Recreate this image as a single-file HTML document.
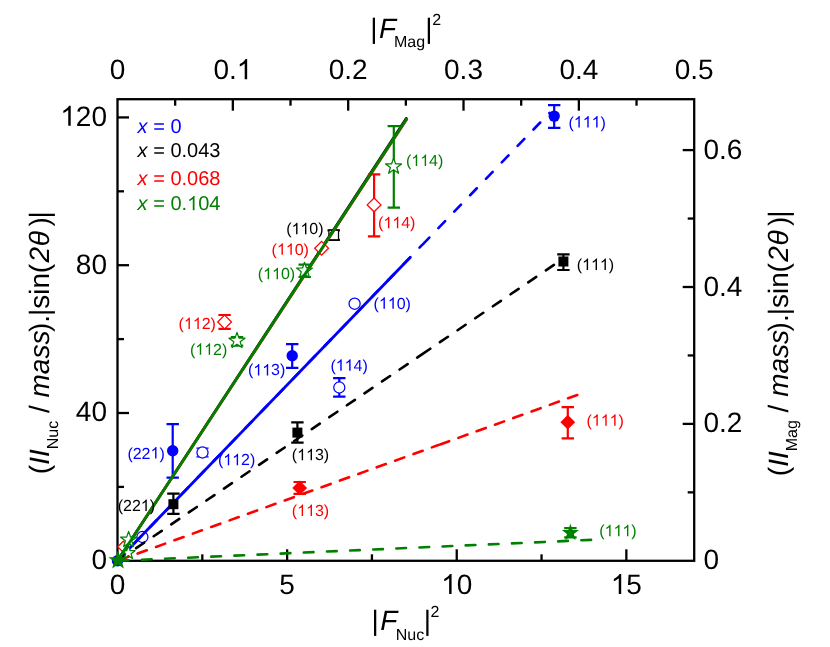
<!DOCTYPE html>
<html><head><meta charset="utf-8"><title>chart</title>
<style>
html,body{margin:0;padding:0;background:#fff;}
svg{display:block;font-family:"Liberation Sans",sans-serif;text-rendering:geometricPrecision;will-change:transform;font-kerning:none;}
</style></head>
<body>
<svg width="830" height="647" viewBox="0 0 830 647">
<rect x="0" y="0" width="830" height="647" fill="#fff"/>
<rect x="117.5" y="99.2" width="576.70" height="461.60" fill="none" stroke="#000" stroke-width="2.3"/>
<line x1="202.31" y1="560.80" x2="202.31" y2="554.30" stroke="#000" stroke-width="2.3" />
<line x1="287.12" y1="560.80" x2="287.12" y2="549.30" stroke="#000" stroke-width="2.3" />
<line x1="371.93" y1="560.80" x2="371.93" y2="554.30" stroke="#000" stroke-width="2.3" />
<line x1="456.74" y1="560.80" x2="456.74" y2="549.30" stroke="#000" stroke-width="2.3" />
<line x1="541.54" y1="560.80" x2="541.54" y2="554.30" stroke="#000" stroke-width="2.3" />
<line x1="626.35" y1="560.80" x2="626.35" y2="549.30" stroke="#000" stroke-width="2.3" />
<line x1="175.17" y1="99.20" x2="175.17" y2="105.70" stroke="#000" stroke-width="2.3" />
<line x1="232.84" y1="99.20" x2="232.84" y2="110.70" stroke="#000" stroke-width="2.3" />
<line x1="290.51" y1="99.20" x2="290.51" y2="105.70" stroke="#000" stroke-width="2.3" />
<line x1="348.18" y1="99.20" x2="348.18" y2="110.70" stroke="#000" stroke-width="2.3" />
<line x1="405.85" y1="99.20" x2="405.85" y2="105.70" stroke="#000" stroke-width="2.3" />
<line x1="463.52" y1="99.20" x2="463.52" y2="110.70" stroke="#000" stroke-width="2.3" />
<line x1="521.19" y1="99.20" x2="521.19" y2="105.70" stroke="#000" stroke-width="2.3" />
<line x1="578.86" y1="99.20" x2="578.86" y2="110.70" stroke="#000" stroke-width="2.3" />
<line x1="636.53" y1="99.20" x2="636.53" y2="105.70" stroke="#000" stroke-width="2.3" />
<line x1="117.50" y1="486.90" x2="124.00" y2="486.90" stroke="#000" stroke-width="2.3" />
<line x1="117.50" y1="413.01" x2="129.00" y2="413.01" stroke="#000" stroke-width="2.3" />
<line x1="117.50" y1="339.11" x2="124.00" y2="339.11" stroke="#000" stroke-width="2.3" />
<line x1="117.50" y1="265.21" x2="129.00" y2="265.21" stroke="#000" stroke-width="2.3" />
<line x1="117.50" y1="191.31" x2="124.00" y2="191.31" stroke="#000" stroke-width="2.3" />
<line x1="117.50" y1="117.42" x2="129.00" y2="117.42" stroke="#000" stroke-width="2.3" />
<line x1="694.20" y1="492.35" x2="687.70" y2="492.35" stroke="#000" stroke-width="2.3" />
<line x1="694.20" y1="423.90" x2="682.70" y2="423.90" stroke="#000" stroke-width="2.3" />
<line x1="694.20" y1="355.45" x2="687.70" y2="355.45" stroke="#000" stroke-width="2.3" />
<line x1="694.20" y1="287.00" x2="682.70" y2="287.00" stroke="#000" stroke-width="2.3" />
<line x1="694.20" y1="218.55" x2="687.70" y2="218.55" stroke="#000" stroke-width="2.3" />
<line x1="694.20" y1="150.10" x2="682.70" y2="150.10" stroke="#000" stroke-width="2.3" />
<circle cx="117.50" cy="560.80" r="5.7" fill="#0000ff"/>
<circle cx="142.40" cy="537.00" r="5.55" fill="#fff" stroke="#0000ff" stroke-width="1.25"/>
<path d="M196.4 448.2H208.6M196.4 456.8H208.6" stroke="#0000ff" stroke-width="1.3" fill="none"/>
<circle cx="202.50" cy="452.50" r="5.55" fill="#fff" stroke="#0000ff" stroke-width="1.25"/>
<circle cx="354.60" cy="303.70" r="5.55" fill="#fff" stroke="#0000ff" stroke-width="1.25"/>
<path d="M339.30 378.10V396.70M333.10 378.10H345.50M333.10 396.70H345.50" stroke="#0000ff" stroke-width="2.2" fill="none"/>
<circle cx="339.30" cy="387.50" r="5.55" fill="#fff" stroke="#0000ff" stroke-width="1.25"/>
<line x1="117.50" y1="560.80" x2="421.64" y2="245.47" stroke="#0000ff" stroke-width="2.6" stroke-linecap="round" stroke-dasharray="9.7 13.13" stroke-dashoffset="-1.30"/>
<line x1="421.64" y1="245.47" x2="549.50" y2="112.90" stroke="#0000ff" stroke-width="2.6" stroke-linecap="round" stroke-dasharray="9.7 13.13" stroke-dashoffset="-1.30"/>
<line x1="117.50" y1="560.80" x2="410.60" y2="256.90" stroke="#0000ff" stroke-width="2.85" />
<path d="M172.70 424.10V477.70M166.50 424.10H178.90M166.50 477.70H178.90" stroke="#0000ff" stroke-width="2.2" fill="none"/>
<circle cx="172.70" cy="450.70" r="5.7" fill="#0000ff"/>
<path d="M292.20 344.20V367.80M286.00 344.20H298.40M286.00 367.80H298.40" stroke="#0000ff" stroke-width="2.2" fill="none"/>
<circle cx="292.20" cy="355.80" r="5.7" fill="#0000ff"/>
<path d="M554.20 105.20V127.90M548.00 105.20H560.40M548.00 127.90H560.40" stroke="#0000ff" stroke-width="2.2" fill="none"/>
<circle cx="554.20" cy="116.10" r="5.7" fill="#0000ff"/>
<path d="M333.70 230.30V239.90M327.50 230.30H339.90M327.50 239.90H339.90" stroke="#000000" stroke-width="2.2" fill="none"/>
<rect x="328.90" y="230.20" width="9.6" height="9.6" fill="#fff" stroke="#000000" stroke-width="1.25"/>
<line x1="117.50" y1="560.80" x2="421.18" y2="354.90" stroke="#000000" stroke-width="2.6" stroke-linecap="round" stroke-dasharray="9.7 11.52" stroke-dashoffset="-1.30"/>
<line x1="421.18" y1="354.90" x2="554.20" y2="264.70" stroke="#000000" stroke-width="2.6" stroke-linecap="round" stroke-dasharray="9.7 11.64" stroke-dashoffset="-1.30"/>
<line x1="117.50" y1="560.80" x2="406.33" y2="118.27" stroke="#000000" stroke-width="2.6" stroke-linecap="round"/>
<path d="M173.40 493.60V513.90M167.20 493.60H179.60M167.20 513.90H179.60" stroke="#000000" stroke-width="2.2" fill="none"/>
<rect x="168.40" y="499.20" width="10.0" height="10.0" fill="#000000"/>
<path d="M297.40 422.30V442.60M291.20 422.30H303.60M291.20 442.60H303.60" stroke="#000000" stroke-width="2.2" fill="none"/>
<rect x="292.40" y="427.60" width="10.0" height="10.0" fill="#000000"/>
<path d="M563.40 254.30V270.00M557.20 254.30H569.60M557.20 270.00H569.60" stroke="#000000" stroke-width="2.2" fill="none"/>
<rect x="558.40" y="256.50" width="10.0" height="10.0" fill="#000000"/>
<path d="M123.30 541.20L128.90 546.80L123.30 552.40L117.70 546.80Z" fill="#fff" stroke="#ff0000" stroke-width="1.25"/>
<path d="M224.60 315.00V328.90M218.40 315.00H230.80M218.40 328.90H230.80" stroke="#ff0000" stroke-width="2.2" fill="none"/>
<path d="M224.60 315.10L231.50 322.00L224.60 328.90L217.70 322.00Z" fill="#fff" stroke="#ff0000" stroke-width="1.25"/>
<path d="M321.60 241.40L328.50 248.30L321.60 255.20L314.70 248.30Z" fill="#fff" stroke="#ff0000" stroke-width="1.25"/>
<path d="M374.10 174.30V236.30M367.90 174.30H380.30M367.90 236.30H380.30" stroke="#ff0000" stroke-width="2.2" fill="none"/>
<path d="M374.10 198.00L381.00 204.90L374.10 211.80L367.20 204.90Z" fill="#fff" stroke="#ff0000" stroke-width="1.25"/>
<line x1="117.50" y1="560.80" x2="438.36" y2="445.06" stroke="#ff0000" stroke-width="2.6" stroke-linecap="round" stroke-dasharray="9.7 9.85" stroke-dashoffset="-1.85"/>
<line x1="438.36" y1="445.06" x2="579.10" y2="394.30" stroke="#ff0000" stroke-width="2.6" stroke-linecap="round" stroke-dasharray="9.7 9.75" stroke-dashoffset="-1.80"/>
<line x1="117.50" y1="560.80" x2="407.28" y2="118.65" stroke="#ff0000" stroke-width="2.6" />
<path d="M299.70 482.00V493.90M293.50 482.00H305.90M293.50 493.90H305.90" stroke="#ff0000" stroke-width="2.2" fill="none"/>
<path d="M299.70 480.50L307.10 487.90L299.70 495.30L292.30 487.90Z" fill="#ff0000"/>
<path d="M567.80 407.20V438.40M561.60 407.20H574.00M561.60 438.40H574.00" stroke="#ff0000" stroke-width="2.2" fill="none"/>
<path d="M567.80 414.80L575.20 422.20L567.80 429.60L560.40 422.20Z" fill="#ff0000"/>
<polygon points="128.60,531.40 130.57,537.08 136.59,537.20 131.80,540.84 133.54,546.60 128.60,543.16 123.66,546.60 125.40,540.84 120.61,537.20 126.63,537.08" fill="#fff" stroke="#008000" stroke-width="1.25" stroke-linejoin="round"/>
<polygon points="128.40,545.80 130.05,550.53 135.06,550.64 131.06,553.67 132.51,558.46 128.40,555.60 124.29,558.46 125.74,553.67 121.74,550.64 126.75,550.53" fill="#fff" stroke="#008000" stroke-width="1.25" stroke-linejoin="round"/>
<path d="M237.00 337.10V345.60M230.80 337.10H243.20M230.80 345.60H243.20" stroke="#008000" stroke-width="2.2" fill="none"/>
<polygon points="237.00,332.40 238.97,338.08 244.99,338.20 240.20,341.84 241.94,347.60 237.00,344.16 232.06,347.60 233.80,341.84 229.01,338.20 235.03,338.08" fill="#fff" stroke="#008000" stroke-width="1.25" stroke-linejoin="round"/>
<path d="M304.70 264.70V277.00M298.50 264.70H310.90M298.50 277.00H310.90" stroke="#008000" stroke-width="2.2" fill="none"/>
<polygon points="304.50,262.30 306.47,267.98 312.49,268.10 307.70,271.74 309.44,277.50 304.50,274.06 299.56,277.50 301.30,271.74 296.51,268.10 302.53,267.98" fill="#fff" stroke="#008000" stroke-width="1.25" stroke-linejoin="round"/>
<path d="M393.80 126.10V207.60M387.60 126.10H400.00M387.60 207.60H400.00" stroke="#008000" stroke-width="2.2" fill="none"/>
<polygon points="393.60,158.10 395.57,163.78 401.59,163.90 396.80,167.54 398.54,173.30 393.60,169.86 388.66,173.30 390.40,167.54 385.61,163.90 391.63,163.78" fill="#fff" stroke="#008000" stroke-width="1.25" stroke-linejoin="round"/>
<line x1="117.50" y1="560.80" x2="592.90" y2="539.80" stroke="#008000" stroke-width="2.6" stroke-linecap="round" stroke-dasharray="9.7 13.45" stroke-dashoffset="-1.30"/>
<line x1="117.50" y1="560.80" x2="406.90" y2="118.40" stroke="#008000" stroke-width="2.8" />
<path d="M570.40 528.10V537.40M564.20 528.10H576.60M564.20 537.40H576.60" stroke="#008000" stroke-width="2.2" fill="none"/>
<polygon points="570.40,523.80 572.52,529.89 578.96,530.02 573.82,533.91 575.69,540.08 570.40,536.40 565.11,540.08 566.98,533.91 561.84,530.02 568.28,529.89" fill="#008000"/>
<polygon points="118.00,550.40 120.35,557.16 127.51,557.31 121.80,561.64 123.88,568.49 118.00,564.40 112.12,568.49 114.20,561.64 108.49,557.31 115.65,557.16" fill="#008000"/>
<text x="109.71" y="594.00" font-size="28" fill="#000">0</text>
<text x="279.33" y="594.00" font-size="28" fill="#000">5</text>
<path transform="translate(441.16 594.00) scale(0.01367 -0.01367)" d="M763 0H583V1147Q518 1085 412.5 1023T223 930V1104Q373 1174.5 485.5 1275T644 1470H763Z" fill="#000"/>
<text x="456.74" y="594.00" font-size="28" fill="#000">0</text>
<path transform="translate(610.78 594.00) scale(0.01367 -0.01367)" d="M763 0H583V1147Q518 1085 412.5 1023T223 930V1104Q373 1174.5 485.5 1275T644 1470H763Z" fill="#000"/>
<text x="626.35" y="594.00" font-size="28" fill="#000">5</text>
<text x="109.71" y="79.20" font-size="28" fill="#000">0</text>
<text x="213.38" y="79.20" font-size="28" fill="#000">0.</text>
<path transform="translate(236.73 79.20) scale(0.01367 -0.01367)" d="M763 0H583V1147Q518 1085 412.5 1023T223 930V1104Q373 1174.5 485.5 1275T644 1470H763Z" fill="#000"/>
<text x="328.72" y="79.20" font-size="28" fill="#000">0.2</text>
<text x="444.06" y="79.20" font-size="28" fill="#000">0.3</text>
<text x="559.40" y="79.20" font-size="28" fill="#000">0.4</text>
<text x="674.74" y="79.20" font-size="28" fill="#000">0.5</text>
<text x="91.43" y="569.10" font-size="28" fill="#000">0</text>
<text x="75.86" y="421.31" font-size="28" fill="#000">40</text>
<text x="75.86" y="273.51" font-size="28" fill="#000">80</text>
<path transform="translate(60.28 125.72) scale(0.01367 -0.01367)" d="M763 0H583V1147Q518 1085 412.5 1023T223 930V1104Q373 1174.5 485.5 1275T644 1470H763Z" fill="#000"/>
<text x="75.86" y="125.72" font-size="28" fill="#000">20</text>
<text x="703.50" y="569.30" font-size="28" fill="#000">0</text>
<text x="703.50" y="432.40" font-size="28" fill="#000">0.2</text>
<text x="703.50" y="295.50" font-size="28" fill="#000">0.4</text>
<text x="703.50" y="158.60" font-size="28" fill="#000">0.6</text>
<text x="137.60" y="133.00" font-size="20" fill="#0000ff" text-anchor="start" ><tspan font-style="italic">x</tspan> =</text>
<text x="170.39" y="133.00" font-size="20" fill="#0000ff">0</text>
<text x="137.60" y="156.80" font-size="20" fill="#000000" text-anchor="start" ><tspan font-style="italic">x</tspan> =</text>
<text x="170.39" y="156.80" font-size="20" fill="#000000">0.043</text>
<text x="137.60" y="184.80" font-size="20" fill="#ff0000" text-anchor="start" ><tspan font-style="italic">x</tspan> =</text>
<text x="170.39" y="184.80" font-size="20" fill="#ff0000">0.068</text>
<text x="137.60" y="210.30" font-size="20" fill="#008000" text-anchor="start" ><tspan font-style="italic">x</tspan> =</text>
<text x="170.39" y="210.30" font-size="20" fill="#008000">0.</text>
<path transform="translate(187.07 210.30) scale(0.00977 -0.00977)" d="M763 0H583V1147Q518 1085 412.5 1023T223 930V1104Q373 1174.5 485.5 1275T644 1470H763Z" fill="#008000"/>
<text x="198.20" y="210.30" font-size="20" fill="#008000">04</text>
<text x="568.50" y="127.50" font-size="16" fill="#0000ff">(</text>
<path transform="translate(573.83 127.50) scale(0.00781 -0.00781)" d="M763 0H583V1147Q518 1085 412.5 1023T223 930V1104Q373 1174.5 485.5 1275T644 1470H763Z" fill="#0000ff"/>
<path transform="translate(582.73 127.50) scale(0.00781 -0.00781)" d="M763 0H583V1147Q518 1085 412.5 1023T223 930V1104Q373 1174.5 485.5 1275T644 1470H763Z" fill="#0000ff"/>
<path transform="translate(591.62 127.50) scale(0.00781 -0.00781)" d="M763 0H583V1147Q518 1085 412.5 1023T223 930V1104Q373 1174.5 485.5 1275T644 1470H763Z" fill="#0000ff"/>
<text x="600.52" y="127.50" font-size="16" fill="#0000ff">)</text>
<text x="576.80" y="269.90" font-size="16" fill="#000000">(</text>
<path transform="translate(582.13 269.90) scale(0.00781 -0.00781)" d="M763 0H583V1147Q518 1085 412.5 1023T223 930V1104Q373 1174.5 485.5 1275T644 1470H763Z" fill="#000000"/>
<path transform="translate(591.03 269.90) scale(0.00781 -0.00781)" d="M763 0H583V1147Q518 1085 412.5 1023T223 930V1104Q373 1174.5 485.5 1275T644 1470H763Z" fill="#000000"/>
<path transform="translate(599.92 269.90) scale(0.00781 -0.00781)" d="M763 0H583V1147Q518 1085 412.5 1023T223 930V1104Q373 1174.5 485.5 1275T644 1470H763Z" fill="#000000"/>
<text x="608.82" y="269.90" font-size="16" fill="#000000">)</text>
<text x="586.50" y="425.80" font-size="16" fill="#ff0000">(</text>
<path transform="translate(591.83 425.80) scale(0.00781 -0.00781)" d="M763 0H583V1147Q518 1085 412.5 1023T223 930V1104Q373 1174.5 485.5 1275T644 1470H763Z" fill="#ff0000"/>
<path transform="translate(600.73 425.80) scale(0.00781 -0.00781)" d="M763 0H583V1147Q518 1085 412.5 1023T223 930V1104Q373 1174.5 485.5 1275T644 1470H763Z" fill="#ff0000"/>
<path transform="translate(609.62 425.80) scale(0.00781 -0.00781)" d="M763 0H583V1147Q518 1085 412.5 1023T223 930V1104Q373 1174.5 485.5 1275T644 1470H763Z" fill="#ff0000"/>
<text x="618.52" y="425.80" font-size="16" fill="#ff0000">)</text>
<text x="599.30" y="536.20" font-size="16" fill="#008000">(</text>
<path transform="translate(604.63 536.20) scale(0.00781 -0.00781)" d="M763 0H583V1147Q518 1085 412.5 1023T223 930V1104Q373 1174.5 485.5 1275T644 1470H763Z" fill="#008000"/>
<path transform="translate(613.53 536.20) scale(0.00781 -0.00781)" d="M763 0H583V1147Q518 1085 412.5 1023T223 930V1104Q373 1174.5 485.5 1275T644 1470H763Z" fill="#008000"/>
<path transform="translate(622.42 536.20) scale(0.00781 -0.00781)" d="M763 0H583V1147Q518 1085 412.5 1023T223 930V1104Q373 1174.5 485.5 1275T644 1470H763Z" fill="#008000"/>
<text x="631.32" y="536.20" font-size="16" fill="#008000">)</text>
<text x="405.90" y="166.10" font-size="16" fill="#008000">(</text>
<path transform="translate(411.23 166.10) scale(0.00781 -0.00781)" d="M763 0H583V1147Q518 1085 412.5 1023T223 930V1104Q373 1174.5 485.5 1275T644 1470H763Z" fill="#008000"/>
<path transform="translate(420.13 166.10) scale(0.00781 -0.00781)" d="M763 0H583V1147Q518 1085 412.5 1023T223 930V1104Q373 1174.5 485.5 1275T644 1470H763Z" fill="#008000"/>
<text x="429.02" y="166.10" font-size="16" fill="#008000">4)</text>
<text x="378.10" y="228.20" font-size="16" fill="#ff0000">(</text>
<path transform="translate(383.43 228.20) scale(0.00781 -0.00781)" d="M763 0H583V1147Q518 1085 412.5 1023T223 930V1104Q373 1174.5 485.5 1275T644 1470H763Z" fill="#ff0000"/>
<path transform="translate(392.33 228.20) scale(0.00781 -0.00781)" d="M763 0H583V1147Q518 1085 412.5 1023T223 930V1104Q373 1174.5 485.5 1275T644 1470H763Z" fill="#ff0000"/>
<text x="401.23" y="228.20" font-size="16" fill="#ff0000">4)</text>
<text x="286.20" y="234.30" font-size="16" fill="#000000">(</text>
<path transform="translate(291.53 234.30) scale(0.00781 -0.00781)" d="M763 0H583V1147Q518 1085 412.5 1023T223 930V1104Q373 1174.5 485.5 1275T644 1470H763Z" fill="#000000"/>
<path transform="translate(300.43 234.30) scale(0.00781 -0.00781)" d="M763 0H583V1147Q518 1085 412.5 1023T223 930V1104Q373 1174.5 485.5 1275T644 1470H763Z" fill="#000000"/>
<text x="309.32" y="234.30" font-size="16" fill="#000000">0)</text>
<text x="271.60" y="254.80" font-size="16" fill="#ff0000">(</text>
<path transform="translate(276.93 254.80) scale(0.00781 -0.00781)" d="M763 0H583V1147Q518 1085 412.5 1023T223 930V1104Q373 1174.5 485.5 1275T644 1470H763Z" fill="#ff0000"/>
<path transform="translate(285.83 254.80) scale(0.00781 -0.00781)" d="M763 0H583V1147Q518 1085 412.5 1023T223 930V1104Q373 1174.5 485.5 1275T644 1470H763Z" fill="#ff0000"/>
<text x="294.73" y="254.80" font-size="16" fill="#ff0000">0)</text>
<text x="257.80" y="279.20" font-size="16" fill="#008000">(</text>
<path transform="translate(263.13 279.20) scale(0.00781 -0.00781)" d="M763 0H583V1147Q518 1085 412.5 1023T223 930V1104Q373 1174.5 485.5 1275T644 1470H763Z" fill="#008000"/>
<path transform="translate(272.03 279.20) scale(0.00781 -0.00781)" d="M763 0H583V1147Q518 1085 412.5 1023T223 930V1104Q373 1174.5 485.5 1275T644 1470H763Z" fill="#008000"/>
<text x="280.93" y="279.20" font-size="16" fill="#008000">0)</text>
<text x="373.60" y="308.80" font-size="16" fill="#0000ff">(</text>
<path transform="translate(378.93 308.80) scale(0.00781 -0.00781)" d="M763 0H583V1147Q518 1085 412.5 1023T223 930V1104Q373 1174.5 485.5 1275T644 1470H763Z" fill="#0000ff"/>
<path transform="translate(387.83 308.80) scale(0.00781 -0.00781)" d="M763 0H583V1147Q518 1085 412.5 1023T223 930V1104Q373 1174.5 485.5 1275T644 1470H763Z" fill="#0000ff"/>
<text x="396.73" y="308.80" font-size="16" fill="#0000ff">0)</text>
<text x="178.60" y="329.00" font-size="16" fill="#ff0000">(</text>
<path transform="translate(183.93 329.00) scale(0.00781 -0.00781)" d="M763 0H583V1147Q518 1085 412.5 1023T223 930V1104Q373 1174.5 485.5 1275T644 1470H763Z" fill="#ff0000"/>
<path transform="translate(192.83 329.00) scale(0.00781 -0.00781)" d="M763 0H583V1147Q518 1085 412.5 1023T223 930V1104Q373 1174.5 485.5 1275T644 1470H763Z" fill="#ff0000"/>
<text x="201.72" y="329.00" font-size="16" fill="#ff0000">2)</text>
<text x="189.90" y="354.80" font-size="16" fill="#008000">(</text>
<path transform="translate(195.23 354.80) scale(0.00781 -0.00781)" d="M763 0H583V1147Q518 1085 412.5 1023T223 930V1104Q373 1174.5 485.5 1275T644 1470H763Z" fill="#008000"/>
<path transform="translate(204.13 354.80) scale(0.00781 -0.00781)" d="M763 0H583V1147Q518 1085 412.5 1023T223 930V1104Q373 1174.5 485.5 1275T644 1470H763Z" fill="#008000"/>
<text x="213.03" y="354.80" font-size="16" fill="#008000">2)</text>
<text x="248.00" y="375.40" font-size="16" fill="#0000ff">(</text>
<path transform="translate(253.33 375.40) scale(0.00781 -0.00781)" d="M763 0H583V1147Q518 1085 412.5 1023T223 930V1104Q373 1174.5 485.5 1275T644 1470H763Z" fill="#0000ff"/>
<path transform="translate(262.23 375.40) scale(0.00781 -0.00781)" d="M763 0H583V1147Q518 1085 412.5 1023T223 930V1104Q373 1174.5 485.5 1275T644 1470H763Z" fill="#0000ff"/>
<text x="271.12" y="375.40" font-size="16" fill="#0000ff">3)</text>
<text x="330.40" y="370.70" font-size="16" fill="#0000ff">(</text>
<path transform="translate(335.73 370.70) scale(0.00781 -0.00781)" d="M763 0H583V1147Q518 1085 412.5 1023T223 930V1104Q373 1174.5 485.5 1275T644 1470H763Z" fill="#0000ff"/>
<path transform="translate(344.63 370.70) scale(0.00781 -0.00781)" d="M763 0H583V1147Q518 1085 412.5 1023T223 930V1104Q373 1174.5 485.5 1275T644 1470H763Z" fill="#0000ff"/>
<text x="353.52" y="370.70" font-size="16" fill="#0000ff">4)</text>
<text x="127.40" y="458.50" font-size="16" fill="#0000ff">(22</text>
<path transform="translate(150.53 458.50) scale(0.00781 -0.00781)" d="M763 0H583V1147Q518 1085 412.5 1023T223 930V1104Q373 1174.5 485.5 1275T644 1470H763Z" fill="#0000ff"/>
<text x="159.42" y="458.50" font-size="16" fill="#0000ff">)</text>
<text x="217.90" y="465.20" font-size="16" fill="#0000ff">(</text>
<path transform="translate(223.23 465.20) scale(0.00781 -0.00781)" d="M763 0H583V1147Q518 1085 412.5 1023T223 930V1104Q373 1174.5 485.5 1275T644 1470H763Z" fill="#0000ff"/>
<path transform="translate(232.13 465.20) scale(0.00781 -0.00781)" d="M763 0H583V1147Q518 1085 412.5 1023T223 930V1104Q373 1174.5 485.5 1275T644 1470H763Z" fill="#0000ff"/>
<text x="241.03" y="465.20" font-size="16" fill="#0000ff">2)</text>
<text x="117.70" y="511.00" font-size="16" fill="#000000">(22</text>
<path transform="translate(140.82 511.00) scale(0.00781 -0.00781)" d="M763 0H583V1147Q518 1085 412.5 1023T223 930V1104Q373 1174.5 485.5 1275T644 1470H763Z" fill="#000000"/>
<text x="149.72" y="511.00" font-size="16" fill="#000000">)</text>
<text x="291.80" y="460.30" font-size="16" fill="#000000">(</text>
<path transform="translate(297.13 460.30) scale(0.00781 -0.00781)" d="M763 0H583V1147Q518 1085 412.5 1023T223 930V1104Q373 1174.5 485.5 1275T644 1470H763Z" fill="#000000"/>
<path transform="translate(306.03 460.30) scale(0.00781 -0.00781)" d="M763 0H583V1147Q518 1085 412.5 1023T223 930V1104Q373 1174.5 485.5 1275T644 1470H763Z" fill="#000000"/>
<text x="314.93" y="460.30" font-size="16" fill="#000000">3)</text>
<text x="291.80" y="516.10" font-size="16" fill="#ff0000">(</text>
<path transform="translate(297.13 516.10) scale(0.00781 -0.00781)" d="M763 0H583V1147Q518 1085 412.5 1023T223 930V1104Q373 1174.5 485.5 1275T644 1470H763Z" fill="#ff0000"/>
<path transform="translate(306.03 516.10) scale(0.00781 -0.00781)" d="M763 0H583V1147Q518 1085 412.5 1023T223 930V1104Q373 1174.5 485.5 1275T644 1470H763Z" fill="#ff0000"/>
<text x="314.93" y="516.10" font-size="16" fill="#ff0000">3)</text>
<text x="405.70" y="37.70" font-size="28" text-anchor="middle">|<tspan font-style="italic" dx="1.3">F</tspan><tspan font-size="16" dy="9.3" dx="-2.1">Mag</tspan><tspan dy="-9.3" dx="0.2">|</tspan><tspan font-size="16" dy="-13" dx="-0.4">2</tspan></text>
<text x="405.40" y="630.40" font-size="28" text-anchor="middle">|<tspan font-style="italic" dx="1.6">F</tspan><tspan font-size="16" dy="9.3" dx="-1.6">Nuc</tspan><tspan dy="-9.3" dx="-0.5">|</tspan><tspan font-size="16" dy="-13" dx="-0.5">2</tspan></text>
<text transform="translate(49.10 474.20) rotate(-90)" x="0" y="0" font-size="28">(<tspan font-style="italic">II</tspan><tspan font-size="16" dy="9.3">Nuc</tspan><tspan dy="-9.3"> / </tspan><tspan font-style="italic">mass</tspan><tspan dx="-1.5">).</tspan><tspan dx="-0.9">|sin</tspan><tspan dx="-0.4">(</tspan><tspan font-style="italic" dx="1.5">2</tspan><tspan font-style="italic" dx="0.6">&#952;</tspan><tspan dx="4.4">)</tspan><tspan dx="-1.1">|</tspan></text>
<text transform="translate(787.90 476.20) rotate(-90)" x="0" y="0" font-size="28">(<tspan font-style="italic">II</tspan><tspan font-size="16" dy="9.3">Mag</tspan><tspan dy="-9.3"> / </tspan><tspan font-style="italic">mass</tspan><tspan dx="-1.5">).</tspan><tspan dx="-0.9">|sin</tspan><tspan dx="-0.4">(</tspan><tspan font-style="italic" dx="1.5">2</tspan><tspan font-style="italic" dx="0.6">&#952;</tspan><tspan dx="4.4">)</tspan><tspan dx="-1.1">|</tspan></text>
</svg>
</body></html>
